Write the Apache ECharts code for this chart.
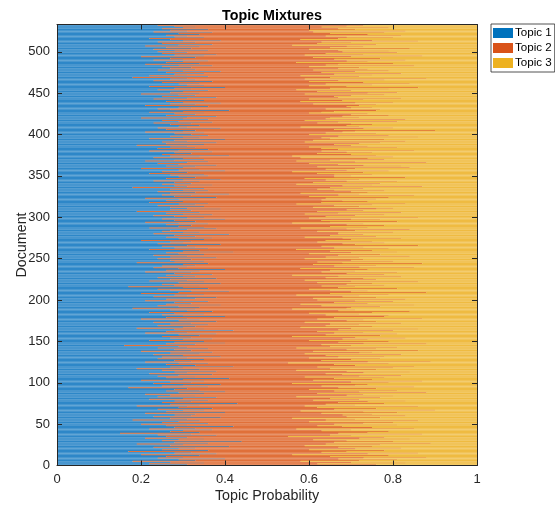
<!DOCTYPE html>
<html>
<head>
<meta charset="utf-8">
<script src="https://cdn.jsdelivr.net/npm/echarts@6/dist/echarts.min.js"></script>
<style>
  html, body { margin: 0; padding: 0; background: #fff; }
  #chart { width: 555px; height: 506px; }
</style>
</head>
<body>
<div id="chart"></div>
<script>
// topic proportions per document (percent), documents 1..532 from bottom to top
const topic1 = [
  31,22,35,27,18,33,29,40,24,30, 26,34,20,38,28,32,17,36,25,29,
  33,23,41,27,30,19,36,28,44,25, 29,35,21,31,26,38,24,32,15,34,
  27,30,37,22,33,28,42,26,31,20, 36,25,29,34,18,31,27,39,23,32,
  28,33,21,40,26,30,35,24,37,29, 31,19,34,27,43,25,32,28,36,22,
  30,38,24,33,27,21,35,29,40,26, 34,28,31,17,36,25,30,39,23,32,
  27,35,20,30,41,26,33,24,29,37, 22,31,28,38,25,34,19,30,27,42,
  33,26,36,29,21,32,28,35,24,31, 25,39,30,23,34,27,37,20,32,28,
  36,24,31,29,16,33,26,40,28,35, 22,30,37,27,32,25,34,29,38,21,
  31,26,42,28,35,19,30,33,24,36, 27,32,23,38,29,34,20,31,26,40,
  30,25,35,28,22,37,31,27,33,18, 34,29,24,39,26,32,28,36,21,30,
  26,33,38,23,31,28,35,20,29,41, 32,27,24,36,30,17,34,28,25,39,
  29,35,22,31,27,38,24,33,30,26, 37,28,32,21,34,26,40,29,23,31,
  25,33,30,36,19,28,35,27,32,24, 38,27,31,23,35,29,26,42,30,34,
  22,36,28,33,25,31,39,24,30,27, 32,20,35,29,37,26,33,28,41,23,
  30,34,25,27,31,38,22,35,29,32, 26,36,29,21,33,28,40,25,31,35,
  28,23,37,30,26,34,19,32,27,39, 31,27,35,24,33,29,36,22,30,26,
  34,29,21,38,28,32,25,41,27,33, 24,36,30,27,35,18,31,28,37,25,
  32,28,34,23,30,39,26,33,29,36, 27,35,22,31,25,40,29,34,20,30,
  33,26,38,29,24,31,36,21,28,35, 30,23,34,27,41,25,32,28,37,22,
  29,36,24,33,27,31,19,35,26,38, 25,31,28,40,22,34,30,27,36,32,
  28,35,21,30,33,26,39,24,31,29, 34,27,32,23,37,29,25,36,30,20,
  31,38,26,33,28,35,22,30,41,27, 24,32,29,36,21,33,27,39,30,26,
  35,28,23,31,38,25,33,29,20,34, 27,30,36,24,32,28,40,22,35,31,
  29,34,25,37,23,33,27,31,18,36, 22,31,28,35,26,39,30,24,33,27,
  32,25,37,29,21,34,26,30,36,23, 30,27,33,20,35,28,38,25,31,24,
  28,36,23,32,26,34,21,29,37,25, 33,24,30,39,27,22,35,28,31,26,
  34,29,37,23,31,27,36,25,30,33, 28,24
];
const topic2 = [
  45,40,48,43,40,39,52,27,49,58, 39,45,36,36,58,31,52,42,35,42,
  49,44,34,32,47,45,53,38,36,44, 32,49,51,47,29,32,41,55,52,40,
  52,33,33,35,52,47,26,36,50,46, 37,55,31,52,46,40,29,38,46,51,
  40,42,42,41,47,28,55,42,39,33, 55,40,37,37,35,42,42,55,25,50,
  35,39,33,47,42,52,27,59,32,40, 47,32,45,50,49,38,41,35,33,47,
  43,52,41,45,25,52,26,48,53,31, 42,42,56,31,32,42,46,50,35,43,
  38,40,43,26,53,57,35,35,53,29, 42,39,34,59,25,45,38,41,54,41,
  40,33,50,36,54,30,62,33,39,44, 38,44,31,56,39,31,43,35,43,45,
  42,36,38,39,51,51,28,42,40,36, 38,50,36,38,40,39,42,56,40,38,
  49,39,37,32,53,47,36,44,23,51, 36,48,39,46,32,42,38,44,50,32,
  57,28,38,45,41,29,44,45,59,29, 42,38,36,45,37,54,29,50,44,36,
  33,51,48,28,49,35,40,49,37,30, 41,41,49,42,37,39,34,29,62,41,
  41,43,31,51,49,34,45,43,41,35, 34,37,53,44,42,31,44,39,35,41,
  35,43,38,40,38,55,32,44,48,35, 43,44,35,53,31,33,43,37,32,44,
  37,46,37,44,53,31,36,39,36,46, 43,37,27,44,48,35,37,45,29,51,
  36,48,41,29,41,48,43,41,42,37, 49,34,37,42,42,28,47,41,44,42,
  29,47,43,41,32,53,42,31,31,41, 46,42,36,35,38,47,56,40,38,32,
  45,33,47,46,34,33,33,50,37,34, 39,40,40,42,31,39,40,30,51,54,
  29,56,35,38,36,57,35,36,37,43, 44,35,46,29,35,45,30,47,32,41,
  56,31,39,48,33,43,51,31,46,39, 34,52,33,38,43,29,56,40,43,28,
  48,29,47,41,57,40,34,56,27,43, 35,48,38,39,30,52,34,47,34,45,
  41,30,53,37,46,25,41,36,35,50, 40,38,46,33,51,43,34,32,50,32,
  33,45,37,51,29,41,37,49,39,40, 54,32,34,33,47,37,46,47,25,44,
  35,50,48,23,44,45,32,57,47,36, 36,44,38,47,37,32,49,37,41,40,
  40,35,48,35,46,46,31,44,33,60, 36,50,28,50,52,31,35,39,50,44,
  51,31,37,52,39,39,48,27,39,37, 37,39,56,36,31,45,45,41,33,56,
  40,36,41,38,52,33,35,42,49,30, 41,49
];
const topic3 = [
  24,38,17,30,42,28,19,33,27,12, 35,21,44,26,14,37,31,22,40,29,
  18,33,25,41,23,36,11,34,20,31, 39,16,28,22,45,30,35,13,33,26,
  21,37,30,43,15,25,32,38,19,34, 27,20,40,14,36,29,44,23,31,17,
  32,25,37,19,27,42,10,34,24,38, 14,41,29,36,22,33,26,17,39,28,
  35,23,43,20,31,27,38,12,28,34, 19,40,24,33,15,37,29,26,44,21,
  30,13,39,25,34,22,41,28,18,32, 36,27,16,31,43,24,35,20,38,15,
  29,34,21,45,26,11,37,30,23,40, 33,22,36,18,41,28,25,39,14,31,
  24,43,19,35,30,37,12,27,33,21, 40,26,32,17,29,44,23,36,19,34,
  27,38,20,33,14,30,42,25,36,28, 35,18,41,24,31,27,38,13,34,22,
  21,36,28,40,25,16,33,29,44,31, 30,23,37,15,42,26,34,20,29,38,
  17,39,24,32,28,43,21,35,12,30, 26,35,40,19,33,29,37,22,31,25,
  38,14,30,41,24,27,36,18,33,44, 22,31,19,37,29,35,26,42,15,28,
  34,24,39,13,32,38,20,30,27,41, 28,36,16,33,23,40,30,19,35,25,
  43,21,34,27,37,14,29,32,22,38, 25,36,30,18,32,41,24,35,27,33,
  33,20,38,29,16,31,42,26,35,22, 31,27,44,35,19,37,23,30,40,14,
  36,29,22,41,33,18,38,27,31,24, 20,39,28,34,25,43,17,37,26,32,
  37,24,36,21,40,15,33,28,42,26, 30,22,34,38,27,35,13,32,25,43,
  23,39,19,31,36,28,41,17,34,30, 34,25,38,27,44,21,31,36,29,16,
  38,18,27,33,40,12,29,43,35,22, 26,42,20,44,24,30,38,25,31,37,
  15,33,37,19,40,26,30,34,28,23, 41,17,39,22,35,37,14,33,21,40,
  24,36,32,29,10,34,27,20,42,28, 31,25,30,38,33,19,41,17,36,35,
  28,32,21,30,26,40,37,34,24,23, 36,30,25,31,28,24,39,29,20,42,
  32,27,40,18,33,34,30,22,41,26, 19,38,30,43,21,35,14,31,40,25,
  36,16,27,40,33,22,41,12,35,28, 42,25,34,18,37,29,21,39,26,33,
  28,40,15,36,33,20,43,26,31,17, 34,23,39,30,13,41,27,36,19,32,
  21,33,40,16,35,27,31,44,24,38, 30,37,14,25,42,33,20,31,36,18,
  26,35,22,39,17,40,29,33,21,37, 31,27
];
const topicNames = ['Topic 1', 'Topic 2', 'Topic 3'];
const xTickValues = [0, 0.2, 0.4, 0.6, 0.8, 1];
const yTickStep = 50;

const barColors = ['#2e87c8', '#e0703a', '#efbb42'];
const legendColors = ['#0072bd', '#d95319', '#edb120'];

// category axis 0..533, bars for documents sit at 1..532
const docCount = topic1.length;
const yMax = docCount + 1;
const docAxis = [];
for (let i = 0; i <= yMax; i++) docAxis.push(String(i));

function toSeriesData(arr) {
  const out = [null];
  arr.forEach(v => out.push(v / 100));
  out.push(null);
  return out;
}

const axisColor = '#262626';
const fontFamily = 'Liberation Sans, Arial, sans-serif';
const showTick = (idx) => idx % yTickStep === 0;

const chart = echarts.init(document.getElementById('chart'), null, { renderer: 'canvas' });

// axes sit above the bars so the inward ticks stay visible (box like matlab)
const option = {
  animation: false,
  title: {
    text: 'Topic Mixtures',
    left: 267,
    top: 4,
    textAlign: 'center',
    textStyle: { fontFamily: fontFamily, fontSize: 14.3, fontWeight: 'bold', color: '#000' }
  },
  legend: {
    orient: 'vertical',
    left: 491,
    top: 24,
    itemWidth: 20,
    itemHeight: 10,
    itemGap: 3,
    padding: [3, 3, 3, 2],
    borderColor: '#262626',
    borderWidth: 0.8,
    icon: 'rect',
    data: topicNames.map((n, i) => ({ name: n, itemStyle: { color: legendColors[i] } })),
    textStyle: { fontFamily: fontFamily, fontSize: 11.6, color: '#000', padding: [0, 0, 0, -3] }
  },
  grid: { left: 57, right: 78, top: 24.5, bottom: 40.5, outerBoundsMode: 'none' },
  xAxis: [
    {
      type: 'value', min: 0, max: 1, interval: 0.2, position: 'bottom', z: 10,
      name: 'Topic Probability', nameLocation: 'middle', nameGap: 23.5, nameMoveOverlap: false,
      nameTextStyle: { fontFamily: fontFamily, fontSize: 14.3, color: '#262626' },
      axisLine: { show: true, onZero: false, lineStyle: { color: axisColor, width: 1 } },
      axisTick: { show: true, inside: true, length: 5, lineStyle: { color: axisColor } },
      axisLabel: { fontFamily: fontFamily, fontSize: 13, color: '#262626', margin: 7,
        formatter: (v) => (xTickValues.indexOf(v) >= 0 ? String(v) : '') },
      splitLine: { show: false }
    },
    {
      type: 'value', min: 0, max: 1, interval: 0.2, position: 'top', z: 10,
      axisLine: { show: true, onZero: false, lineStyle: { color: axisColor, width: 1 } },
      axisTick: { show: true, inside: true, length: 5, lineStyle: { color: axisColor } },
      axisLabel: { show: false },
      splitLine: { show: false }
    }
  ],
  yAxis: [
    {
      type: 'category', data: docAxis, boundaryGap: false, position: 'left', z: 10,
      name: 'Document', nameLocation: 'middle', nameGap: 28, nameRotate: 90, nameMoveOverlap: false,
      nameTextStyle: { fontFamily: fontFamily, fontSize: 14.3, color: '#262626' },
      axisLine: { show: true, onZero: false, lineStyle: { color: axisColor, width: 1 } },
      axisTick: { show: true, inside: true, length: 5, interval: showTick, lineStyle: { color: axisColor } },
      axisLabel: { interval: showTick, fontFamily: fontFamily, fontSize: 13, color: '#262626', margin: 7 },
      splitLine: { show: false }
    },
    {
      type: 'category', data: docAxis, boundaryGap: false, position: 'right', z: 10,
      axisLine: { show: true, onZero: false, lineStyle: { color: axisColor, width: 1 } },
      axisTick: { show: true, inside: true, length: 5, interval: showTick, lineStyle: { color: axisColor } },
      axisLabel: { show: false },
      splitLine: { show: false }
    }
  ],
  series: [topic1, topic2, topic3].map((arr, i) => ({
    name: topicNames[i],
    type: 'bar',
    stack: 'mix',
    xAxisIndex: 0,
    yAxisIndex: 0,
    barWidth: '100%',
    barCategoryGap: 0,
    itemStyle: { color: barColors[i] },
    data: toSeriesData(arr)
  }))
};

chart.setOption(option);
</script>
</body>
</html>
